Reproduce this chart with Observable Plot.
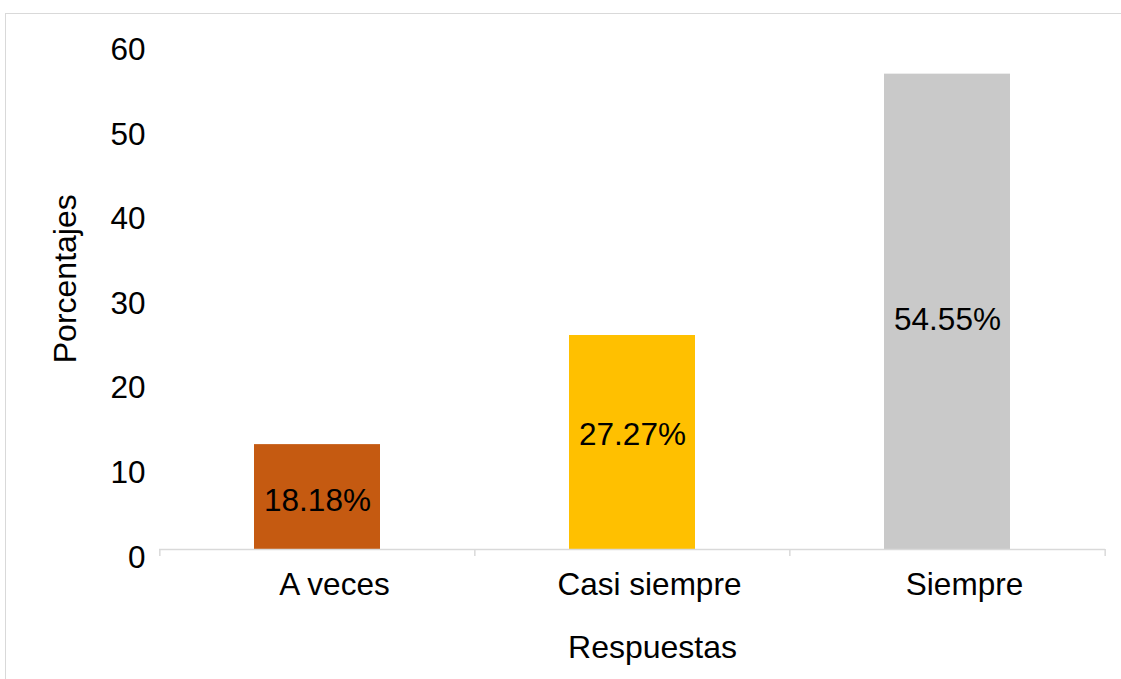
<!DOCTYPE html>
<html><head><meta charset="utf-8">
<script src="https://cdn.jsdelivr.net/npm/d3@7"></script>
<script src="https://cdn.jsdelivr.net/npm/@observablehq/plot@0.6"></script>
<style>
body{margin:0;background:#fff;}
#wrap{position:relative;width:1121px;height:679px;overflow:hidden;background:#fff;}
#frame{position:absolute;left:5px;top:13px;width:1200px;height:800px;border:1.5px solid #d9d9d9;pointer-events:none;}
#chart{position:absolute;left:0;top:0;}
</style></head><body><div id="wrap"><div id="chart"></div><div id="frame"></div></div>
<script>
const categories = ["A veces", "Casi siempre", "Siempre"];
const values = [12.4, 25.3, 56.2];
const labels = ["18.18%", "27.27%", "54.55%"];
const labelAt = [5.8, 13.5, 27.2];
const colors = ["#C55A11", "#FFC000", "#C9C9C9"];
const yTicks = [0, 10, 20, 30, 40, 50, 60];
const xTitle = "Respuestas";
const yTitle = "Porcentajes";

const W = 1121, H = 679, ml = 159, mr = 16, mt = 41.5, mb = 130;
const step = (W - ml - mr) / categories.length;
const pxPerUnit = (H - mt - mb) / 60;
const data = categories.map((c, i) => ({cat: c, value: values[i], label: labels[i], at: labelAt[i], color: colors[i]}));
const font = "'Liberation Sans', Arial, sans-serif";

const plot = Plot.plot({
  width: W, height: H,
  marginLeft: ml, marginRight: mr, marginTop: mt, marginBottom: mb,
  style: {fontFamily: font, fontSize: "30px", color: "#000", background: "transparent"},
  x: {domain: categories, paddingInner: 0.6, paddingOuter: 0.3, axis: null},
  y: {domain: [0, 60], axis: null},
  color: {type: "identity"},
  marks: [
    Plot.barY(data, {x: "cat", y: "value", fill: "color"}),
    Plot.ruleY([0], {stroke: "#d9d9d9", strokeWidth: 1.5}),
    Plot.ruleX(categories, {x: d => d, dx: -step / 2, y1: 0, y2: -7 / pxPerUnit, stroke: "#d9d9d9", strokeWidth: 1.5}),
    Plot.ruleX(categories.slice(-1), {x: d => d, dx: step / 2, y1: 0, y2: -7 / pxPerUnit, stroke: "#d9d9d9", strokeWidth: 1.5}),
    Plot.axisY(yTicks, {tickSize: 0, tickPadding: 14, dy: 8, fontSize: 31.5, label: null, fill: "#000"}),
    Plot.axisX({tickSize: 0, tickPadding: 23, dx: 17, fontSize: 31.5, label: null, fill: "#000"}),
    Plot.text(data, {x: "cat", y: "at", text: "label", fontSize: 31.5, fill: "#000"}),
    Plot.text([xTitle], {frameAnchor: "bottom", text: d => d, textAnchor: "middle", dx: 20, dy: 98, lineAnchor: "middle", fontSize: 32, fill: "#000"}),
    Plot.text([yTitle], {frameAnchor: "left", text: d => d, textAnchor: "middle", rotate: -90, dx: -93.5, dy: -17, lineAnchor: "middle", fontSize: 32, fill: "#000"})
  ]
});
document.getElementById("chart").appendChild(plot);
</script>
</body></html>
